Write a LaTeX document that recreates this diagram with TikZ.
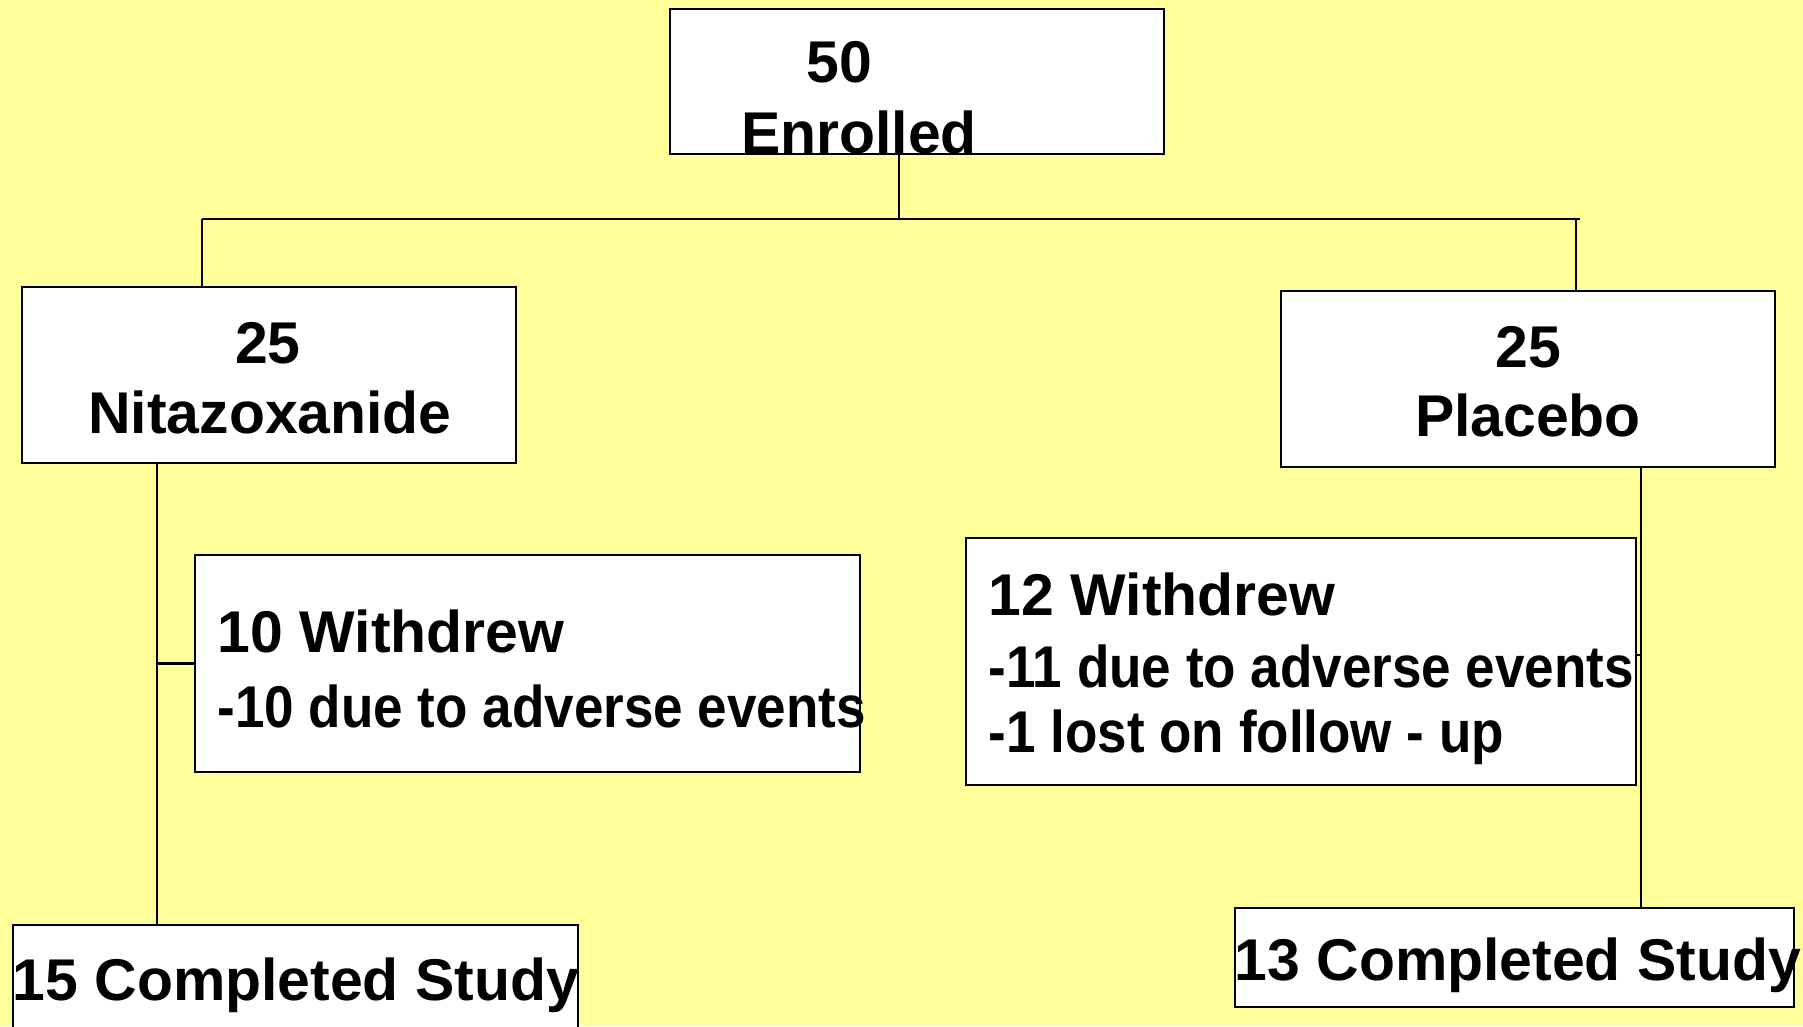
\documentclass[tikz,border=0pt]{standalone}
\usepackage{fontspec}
\setmainfont{Liberation Sans}
\newfontfamily\condfont{Liberation Sans}[FakeStretch=0.90]
\definecolor{bgyellow}{RGB}{255,255,153}
\begin{document}
\begin{tikzpicture}[x=0.01cm,y=-0.01cm,
  box/.style={draw, line width=0.6pt, fill=white, inner sep=0pt, rectangle},
  txt/.style={inner sep=0pt, font=\fontsize{16.75}{20}\selectfont\bfseries},
  sub/.style={inner sep=0pt, font=\fontsize{16.75}{20}\selectfont\condfont\bfseries},
  conn/.style={line width=0.6pt}]
\useasboundingbox (0,0) rectangle (1803,1026);
\fill[bgyellow] (0,0) rectangle (1803,1026);
\clip (0,0) rectangle (1803,1026);

% boxes
\node[box, minimum width=4.94cm, minimum height=1.45cm] (top) at (917,81.5) {};
\node[box, minimum width=4.94cm, minimum height=1.76cm] (nit) at (269,375) {};
\node[box, minimum width=4.94cm, minimum height=1.76cm] (pla) at (1528,379) {};
\node[box, minimum width=6.65cm, minimum height=2.17cm] (wdL) at (527.5,663.5) {};
\node[box, minimum width=6.70cm, minimum height=2.47cm] (wdR) at (1301,661.5) {};
\node[box, minimum width=5.65cm, minimum height=1.15cm] (cmpL) at (295.5,982.5) {};
\node[box, minimum width=5.59cm, minimum height=0.99cm] (cmpR) at (1514.5,957.5) {};

% junction coordinates
\coordinate (j) at (899,219);
\coordinate (jl) at (202,219);
\coordinate (jr) at (1580,219);
\coordinate (jr2) at (1576,219);
\coordinate (lv) at (157,463);
\coordinate (rv) at (1641,467);

% connectors
\draw[conn] (j |- top.south) -- (j);
\draw[conn] (jl) -- (jr);
\draw[conn] (jl) -- (jl |- nit.north);
\draw[conn] (jr2) -- (jr2 |- pla.north);
\draw[conn] (lv |- nit.south) -- (lv |- cmpL.north);
\draw[conn] (wdL.west -| lv) -- (wdL.west);
\draw[conn] (rv |- pla.south) -- (rv |- cmpR.north);
\draw[conn] (wdR.east |- 0,655) -- (rv |- 0,655);

% texts
\node[txt, anchor=base] (t50) at (839,82) {50};
\node[txt, anchor=base] (tenr) at (859,153) {Enrolled};
\node[txt, anchor=base] (t25a) at (268,363) {25};
\node[txt, anchor=base] (tnit) at (270,433) {Nitazoxanide};
\node[txt, anchor=base] (t25b) at (1528,367) {25};
\node[txt, anchor=base] (tpla) at (1528,436) {Placebo};
\node[txt, anchor=base west] (tw10) at (217,652) {10 Withdrew};
\node[sub, anchor=base west] (tw10a) at (217,727) {-10 due to adverse events};
\node[txt, anchor=base west] (tw12) at (988,615) {12 Withdrew};
\node[sub, anchor=base west] (tw12a) at (988,687) {-11 due to adverse events};
\node[sub, anchor=base west] (tw12b) at (988,752) {-1 lost on follow - up};
\node[txt, anchor=base west] (tc15) at (12,1000) {15 Completed Study};
\node[txt, anchor=base west] (tc13) at (1234,980) {13 Completed Study};
\end{tikzpicture}
\end{document}
